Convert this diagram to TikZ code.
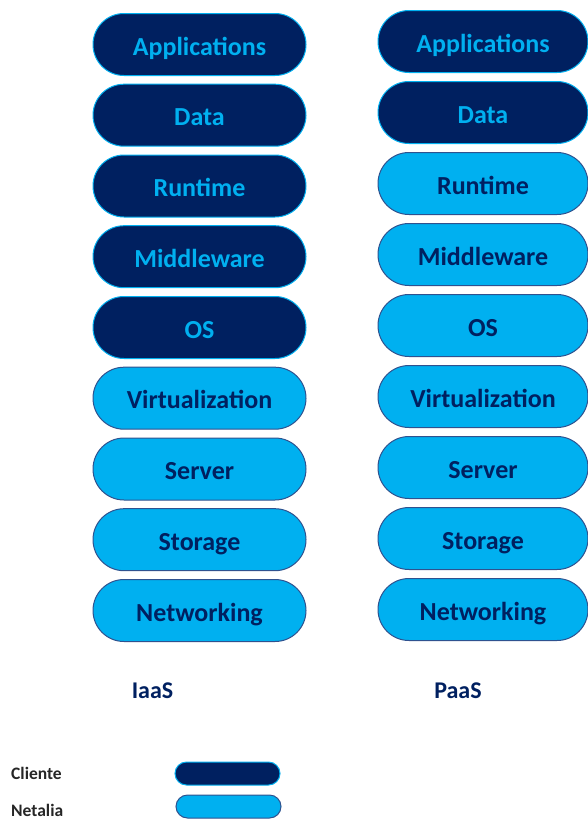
\documentclass[tikz,border=0pt]{standalone}
\usepackage{fontspec}
\setmainfont{Carlito}
\definecolor{navy}{HTML}{002060}
\definecolor{sky}{HTML}{00B0F0}
\definecolor{edgeblue}{HTML}{2F528F}
\begin{document}
\begin{tikzpicture}[x=1pt,y=-1pt,
  layer/.style={rectangle,rounded corners=31pt,minimum height=62pt,minimum width=213pt,inner sep=0pt,line width=1pt,text height=26pt,text depth=5pt,font=\fontsize{26}{30}\selectfont\bfseries},
  cli/.style={layer,fill=navy,draw=sky,text=sky},
  net/.style={layer,fill=sky,draw=edgeblue,text=navy},
  lbl/.style={font=\fontsize{24}{28}\selectfont\bfseries,text=navy,inner sep=0pt},
  leg/.style={font=\fontsize{17.5}{20}\selectfont\bfseries,text=black!85,inner sep=0pt,anchor=west},
  legbox/.style={rectangle,rounded corners=11.5pt,minimum height=23pt,minimum width=105pt,inner sep=0pt,line width=1pt}]
\useasboundingbox (0,0) rectangle (587,820);
% IaaS column
\node[cli] (ia1) at (199.5,44.5) {Applications};
\node[cli] (ia2) at (199.5,115.2) {Data};
\node[cli] (ia3) at (199.5,186) {Runtime};
\node[cli] (ia4) at (199.5,256.7) {Middleware};
\node[cli] (ia5) at (199.5,327.5) {OS};
\node[net] (ia6) at (199.5,398.2) {Virtualization};
\node[net] (ia7) at (199.5,469) {Server};
\node[net] (ia8) at (199.5,539.7) {Storage};
\node[net] (ia9) at (199.5,610.5) {Networking};
% PaaS column
\node[cli,minimum width=210pt] (pa1) at (483,41.5) {Applications};
\node[cli,minimum width=210pt] (pa2) at (483,112.5) {Data};
\node[net,minimum width=210pt] (pa3) at (483,183.5) {Runtime};
\node[net,minimum width=210pt] (pa4) at (483,254.5) {Middleware};
\node[net,minimum width=210pt] (pa5) at (483,325.5) {OS};
\node[net,minimum width=210pt] (pa6) at (483,396.5) {Virtualization};
\node[net,minimum width=210pt] (pa7) at (483,467.5) {Server};
\node[net,minimum width=210pt] (pa8) at (483,538.5) {Storage};
\node[net,minimum width=210pt] (pa9) at (483,609.5) {Networking};
% labels
\node[lbl] (iaas) at (152.5,691) {IaaS};
\node[lbl] (paas) at (458,691) {PaaS};
% legend
\node[leg] (tcli) at (11,773) {Cliente};
\node[leg] (tnet) at (11,810) {Netalia};
\node[legbox,fill=navy,draw=sky] (bcli) at (227.5,773.5) {};
\node[legbox,fill=sky,draw=edgeblue] (bnet) at (228.5,806.5) {};
\end{tikzpicture}
\end{document}
